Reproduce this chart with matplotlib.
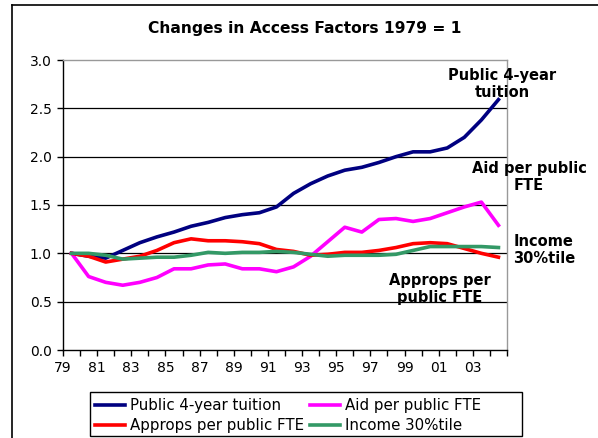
import numpy as np
import matplotlib
matplotlib.use("Agg")
import matplotlib.pyplot as plt
from matplotlib.lines import Line2D
from matplotlib.patches import Rectangle

years = list(range(1979, 2005))
tick_labels = ["79", "81", "83", "85", "87", "89", "91", "93", "95", "97", "99", "01", "03"]

tuition = [1.00, 0.97, 0.95, 1.03, 1.11, 1.17, 1.22, 1.28, 1.32, 1.37, 1.40, 1.42, 1.48,
           1.62, 1.72, 1.80, 1.86, 1.89, 1.94, 2.00, 2.05, 2.05, 2.09, 2.20, 2.38, 2.59]
aid = [1.00, 0.76, 0.70, 0.67, 0.70, 0.75, 0.84, 0.84, 0.88, 0.89, 0.84, 0.84, 0.81,
       0.86, 0.97, 1.12, 1.27, 1.22, 1.35, 1.36, 1.33, 1.36, 1.42, 1.48, 1.53, 1.29]
approps = [1.00, 0.97, 0.91, 0.94, 0.97, 1.03, 1.11, 1.15, 1.13, 1.13, 1.12, 1.10, 1.04,
           1.02, 0.98, 0.99, 1.01, 1.01, 1.03, 1.06, 1.10, 1.11, 1.10, 1.05, 1.00, 0.96]
income = [1.00, 1.00, 0.98, 0.94, 0.95, 0.96, 0.96, 0.98, 1.01, 1.00, 1.01, 1.01, 1.02,
          1.01, 0.99, 0.97, 0.98, 0.98, 0.98, 0.99, 1.03, 1.07, 1.07, 1.07, 1.07, 1.06]

series = [
    ("Public 4-year tuition", tuition, "#000080"),
    ("Aid per public FTE", aid, "#FF00FF"),
    ("Approps per public FTE", approps, "#FF0000"),
    ("Income 30%tile", income, "#339966"),
]

plt.rcParams['font.family'] = ['DejaVu Sans']
W, H = 598, 438
fig = plt.figure(figsize=(W / 100, H / 100), dpi=100)
fig.patch.set_facecolor("white")

ax = fig.add_axes([63 / W, 1 - 350 / H, (507 - 63) / W, (350 - 60) / H])
n = len(years)
x = np.arange(n) + 0.5
lines = {}
for name, vals, col in series:
    ln, = ax.plot(x, vals, color=col, lw=2.6, label=name, solid_joinstyle="round", zorder=3)
    lines[name] = ln

ax.set_xlim(0, n)
ax.set_ylim(0, 3.0)
ax.set_yticks(np.arange(0, 3.01, 0.5))
ax.set_yticklabels([f"{v:.1f}" for v in np.arange(0, 3.01, 0.5)], fontsize=10)
ax.set_xticks(np.arange(0, n + 1))
xl = [""] * (n + 1)
for i, lab in enumerate(tick_labels):
    xl[2 * i] = lab
ax.set_xticklabels(xl, fontsize=10)
ax.tick_params(axis="both", direction="out", length=4, width=1, color="black", pad=4)
for yv in np.arange(0.5, 2.51, 0.5):
    ax.axhline(yv, color="black", lw=0.9, zorder=1)
ax.spines["left"].set_color("black")
ax.spines["bottom"].set_color("black")
ax.spines["top"].set_color("#999999")
ax.spines["right"].set_color("#999999")
for s in ax.spines.values():
    s.set_linewidth(1.0)

fig.text(305 / W, 1 - 28 / H, "Changes in Access Factors 1979 = 1", ha="center", va="center",
         fontsize=11.2, fontweight="bold")

ann = [
    ("Public 4-year\ntuition", 502, 84),
    ("Aid per public\nFTE", 529, 177),
    ("Income\n30%tile", 544, 250),
    ("Approps per\npublic FTE", 440, 289),
]
for txt, px, py in ann:
    fig.text(px / W, 1 - py / H, txt, ha="center", va="center", fontsize=10.5,
             fontweight="bold", linespacing=1.2)

# legend frame
fig.add_artist(Rectangle((90 / W, 1 - 436 / H), (522 - 90) / W, (436 - 392) / H,
                         transform=fig.transFigure, facecolor="white", edgecolor="black",
                         lw=1.0, zorder=2))
order = ["Public 4-year tuition", "Approps per public FTE", "Aid per public FTE", "Income 30%tile"]
leg = fig.legend(handles=[lines[k] for k in order], loc="upper left", ncol=2,
                 bbox_to_anchor=(95 / W, 1 - 398 / H), borderaxespad=0, borderpad=0,
                 fontsize=10.8, frameon=False,
                 handlelength=2.0, handletextpad=0.3, labelspacing=0.35,
                 columnspacing=0.45)
leg.set_zorder(3)

fig.add_artist(Line2D([12 / W, 12 / W], [0, 1 - 5 / H], color="black", lw=1.2, transform=fig.transFigure))
fig.add_artist(Line2D([12 / W, 1], [1 - 5 / H, 1 - 5 / H], color="black", lw=1.2, transform=fig.transFigure))

fig.savefig("out.png", dpi=100, facecolor="white")
